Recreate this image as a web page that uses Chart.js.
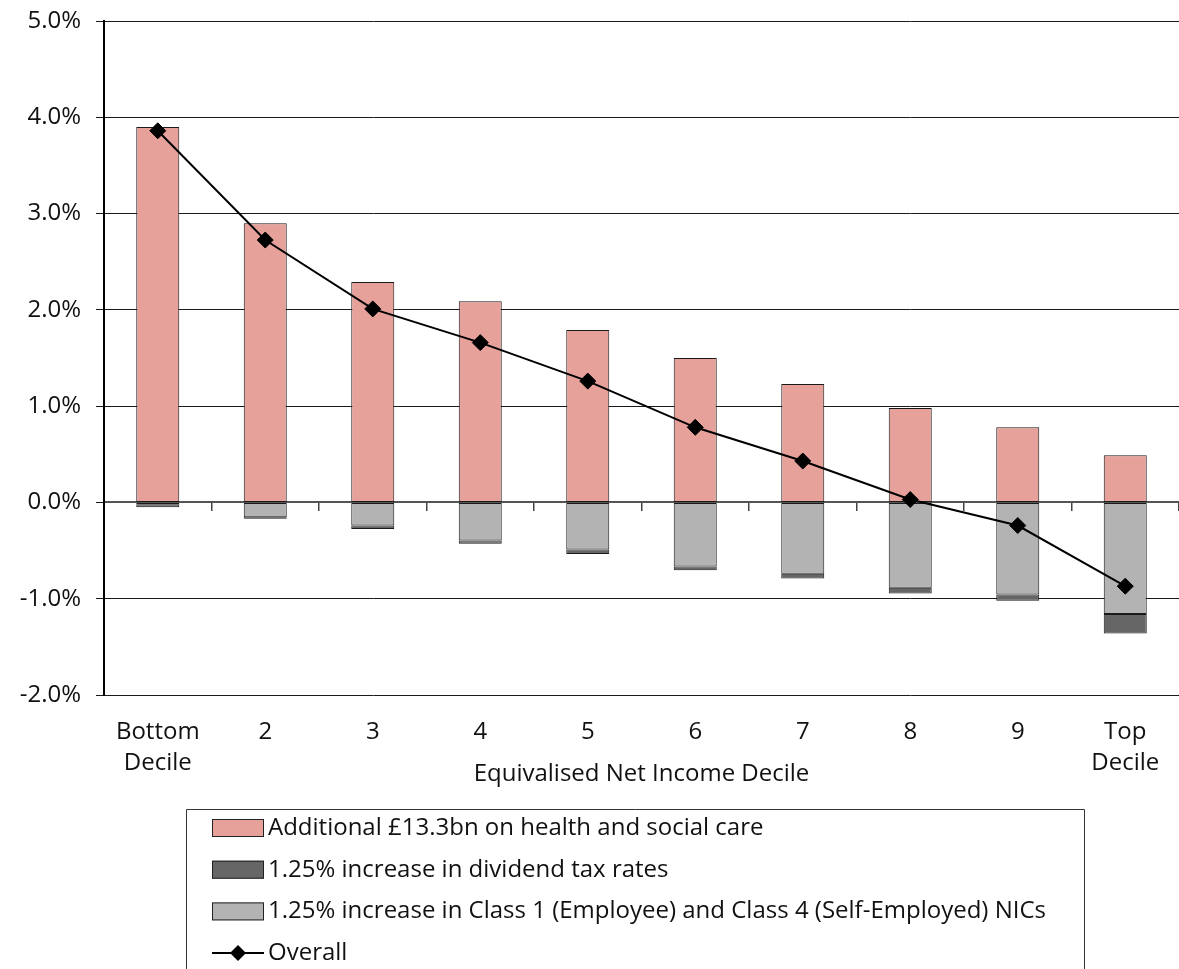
<!DOCTYPE html>
<html>
<head>
<meta charset="utf-8">
<script src="https://cdn.jsdelivr.net/npm/chart.js@4.4.1/dist/chart.umd.min.js"></script>
<style>
  html, body { margin: 0; padding: 0; background: #fff; }
  #wrap { width: 1179px; height: 969px; }
</style>
</head>
<body>
<div id="wrap"><canvas id="chart" width="1179" height="969"></canvas></div>
<script>
'use strict';

// ─── Data ───
const DECILES = [['Bottom', 'Decile'], '2', '3', '4', '5', '6', '7', '8', '9', ['Top', 'Decile']];

const HEALTH_CARE = [3.90, 2.90, 2.29, 2.09, 1.79, 1.50, 1.23, 0.98, 0.78, 0.49];
const CLASS_NICS  = [-0.02, -0.155, -0.24, -0.395, -0.49, -0.665, -0.74, -0.885, -0.955, -1.16];
const DIVIDEND    = [-0.03, -0.015, -0.035, -0.035, -0.045, -0.04, -0.05, -0.06, -0.065, -0.20];
const OVERALL     = [3.86, 2.725, 2.01, 1.66, 1.26, 0.78, 0.43, 0.03, -0.24, -0.87];

const LABEL_HEALTH   = 'Additional £13.3bn on health and social care';
const LABEL_DIVIDEND = '1.25% increase in dividend tax rates';
const LABEL_NICS     = '1.25% increase in Class 1 (Employee) and Class 4 (Self-Employed) NICs';
const LABEL_OVERALL  = 'Overall';

const Y_MIN = -2;
const Y_MAX = 5;

const FONT = "'Open Sans', 'Noto Sans', sans-serif";
const FONT_SIZE = 24;
const TEXT = '#111';

// ─── Boxed legend, one entry per row ───
// dataset indices in the order the legend lists them
const LEGEND_ORDER = [1, 3, 2, 0];

const boxedLegend = {
  id: 'boxedLegend',
  afterDraw(chart) {
    const { ctx, chartArea } = chart;
    const left = chartArea.left + 82;
    const top = chartArea.bottom + 114;
    const boxW = 898;
    const rowH = 41.7;
    const swatchW = 52;
    const swatchH = 18;

    ctx.save();
    ctx.font = `${FONT_SIZE}px ${FONT}`;

    ctx.strokeStyle = '#333';
    ctx.lineWidth = 1;
    ctx.beginPath();
    ctx.moveTo(left + 0.5, chart.height + 2);
    ctx.lineTo(left + 0.5, top + 0.5);
    ctx.lineTo(left + boxW + 0.5, top + 0.5);
    ctx.lineTo(left + boxW + 0.5, chart.height + 2);
    ctx.stroke();

    LEGEND_ORDER.forEach((i, row) => {
      const ds = chart.data.datasets[i];
      const cy = top + 19 + row * rowH;
      const sx = left + 26;
      if (ds.type === 'line') {
        ctx.strokeStyle = ds.borderColor;
        ctx.lineWidth = 2;
        ctx.beginPath();
        ctx.moveTo(sx, cy);
        ctx.lineTo(sx + swatchW, cy);
        ctx.stroke();
        ctx.fillStyle = ds.pointBackgroundColor;
        const r = 8;
        const mx = sx + swatchW / 2;
        ctx.beginPath();
        ctx.moveTo(mx, cy - r);
        ctx.lineTo(mx + r, cy);
        ctx.lineTo(mx, cy + r);
        ctx.lineTo(mx - r, cy);
        ctx.closePath();
        ctx.fill();
      } else {
        ctx.fillStyle = ds.backgroundColor;
        ctx.fillRect(sx, cy - swatchH / 2, swatchW, swatchH);
        ctx.strokeStyle = '#222';
        ctx.lineWidth = 1;
        ctx.strokeRect(sx + 0.5, cy - swatchH / 2 + 0.5, swatchW - 1, swatchH - 1);
      }
      ctx.fillStyle = TEXT;
      ctx.textBaseline = 'middle';
      ctx.textAlign = 'left';
      ctx.fillText(ds.label, sx + swatchW + 4, cy);
    });
    ctx.restore();
  },
};

const barStyle = {
  type: 'bar',
  borderColor: '#1a1a1a',
  borderWidth: 1,
  borderSkipped: false,
  barPercentage: 0.4,
  categoryPercentage: 1.0,
  stack: 'parts',
  xAxisID: 'x',
};

new Chart(document.getElementById('chart'), {
  data: {
    labels: DECILES,
    datasets: [
      {
        type: 'line',
        label: LABEL_OVERALL,
        data: OVERALL,
        borderColor: '#000',
        borderWidth: 2,
        pointStyle: 'rectRot',
        pointRadius: 8,
        pointBackgroundColor: '#000',
        pointBorderColor: '#000',
        pointBorderWidth: 1,
        tension: 0,
        stack: 'overall',
        xAxisID: 'x',
      },
      { ...barStyle, label: LABEL_HEALTH, data: HEALTH_CARE, backgroundColor: '#e6a19a' },
      { ...barStyle, label: LABEL_NICS, data: CLASS_NICS, backgroundColor: '#b3b3b3' },
      { ...barStyle, label: LABEL_DIVIDEND, data: DIVIDEND, backgroundColor: '#666666' },
    ],
  },
  options: {
    responsive: false,
    animation: false,
    devicePixelRatio: 1,
    layout: { autoPadding: false, padding: { top: 21, right: 0, left: 0, bottom: 0 } },
    plugins: {
      legend: { display: false },
      tooltip: { enabled: false },
    },
    scales: {
      x: {
        type: 'category',
        position: 'bottom',
        offset: true,
        stacked: true,
        grid: { display: false, drawTicks: false, offset: true },
        border: { display: false },
        ticks: {
          color: TEXT,
          padding: 22,
          maxRotation: 0,
          autoSkip: false,
          font: { family: FONT, size: FONT_SIZE, lineHeight: 1.29 },
        },
        title: {
          display: true,
          text: 'Equivalised Net Income Decile',
          color: TEXT,
          font: { family: FONT, size: FONT_SIZE },
          padding: { top: 0, bottom: 180 },
        },
        afterFit(scale) {
          scale.height = 274;
          scale.paddingLeft = 0;
          scale.paddingRight = 0;
        },
      },
      // category axis crossing at zero: dark line with tick marks between deciles
      xZero: {
        type: 'category',
        position: { y: 0 },
        offset: true,
        grid: { display: true, offset: true, drawOnChartArea: false, drawTicks: true, tickLength: 8, color: '#444', lineWidth: 1.5 },
        border: { display: true, color: '#555', width: 2 },
        ticks: { display: false },
      },
      y: {
        min: Y_MIN,
        max: Y_MAX,
        stacked: true,
        grid: { color: '#1a1a1a', lineWidth: 1, tickLength: 8 },
        border: { display: true, color: '#000', width: 2 },
        ticks: {
          stepSize: 1,
          color: TEXT,
          padding: 15,
          font: { family: FONT, size: FONT_SIZE },
          callback: v => v.toFixed(1) + '%',
        },
        afterFit(scale) {
          scale.width = 104;
          scale.paddingTop = 0;
          scale.paddingBottom = 0;
        },
      },
    },
  },
  plugins: [boxedLegend],
});
</script>
</body>
</html>
